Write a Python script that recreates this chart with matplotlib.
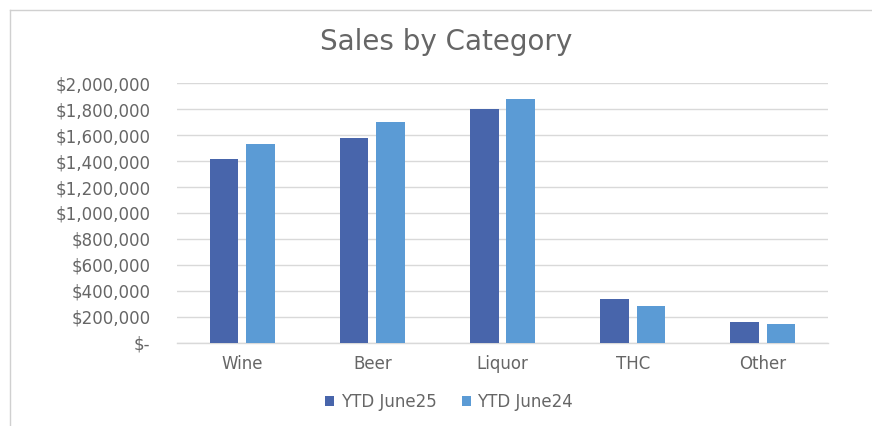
import matplotlib.pyplot as plt
import numpy as np
from matplotlib.lines import Line2D
from matplotlib.ticker import FuncFormatter, MultipleLocator

# Year-to-date sales by category
categories = ['Wine', 'Beer', 'Liquor', 'THC', 'Other']
ytd_june25 = [1420000, 1580000, 1805000, 340000, 160000]
ytd_june24 = [1530000, 1700000, 1880000, 283000, 145000]
series_labels = ['YTD June25', 'YTD June24']

dark_blue = '#4865ab'
light_blue = '#5b9bd5'
text_grey = '#666666'
grid_grey = '#d9d9d9'

plt.rcParams['font.family'] = ['DejaVu Sans']

fig = plt.figure(figsize=(8.72, 4.26), dpi=100)
ax = fig.add_axes([177 / 872, 1 - 342.7 / 426, (828 - 177) / 872, (342.7 - 83.3) / 426])

x = np.arange(len(categories))
width = 0.22
offset = 0.14

ax.bar(x - offset, ytd_june25, width, color=dark_blue, label=series_labels[0], zorder=3)
ax.bar(x + offset, ytd_june24, width, color=light_blue, label=series_labels[1], zorder=3)

ax.set_xlim(-0.5, len(categories) - 0.5)
ax.set_ylim(0, 2000000)
ax.yaxis.set_major_locator(MultipleLocator(200000))


def money(v, pos):
    if v == 0:
        return '$-'
    return f'${v:,.0f}'


ax.yaxis.set_major_formatter(FuncFormatter(money))
ax.set_xticks(x)
ax.set_xticklabels(categories)

ax.tick_params(axis='both', length=0, labelsize=12, colors=text_grey)
ax.tick_params(axis='y', pad=19)
ax.tick_params(axis='x', pad=9)
ax.grid(axis='y', color=grid_grey, linewidth=1, zorder=0)
for side in ['top', 'right', 'left']:
    ax.spines[side].set_visible(False)
ax.spines['bottom'].set_color(grid_grey)
ax.spines['bottom'].set_linewidth(1)

fig.text(446 / 872, 1 - 42 / 426, 'Sales by Category', ha='center', va='center',
         fontsize=20, color=text_grey)

ax.legend(loc='center', bbox_to_anchor=(449 / 872, 1 - 402 / 426),
          bbox_transform=fig.transFigure, ncol=2, frameon=False,
          fontsize=12, labelcolor=text_grey, handlelength=0.55, handleheight=0.55,
          handletextpad=0.4, columnspacing=1.5)

# chart frame edges
fy = 1 - 10 / 426
fx = 10 / 872
fig.add_artist(Line2D([fx, 1], [fy, fy], color='#d0d0d0', linewidth=1, transform=fig.transFigure))
fig.add_artist(Line2D([fx, fx], [0, fy], color='#d0d0d0', linewidth=1, transform=fig.transFigure))

fig.savefig('out.png', dpi=100)
